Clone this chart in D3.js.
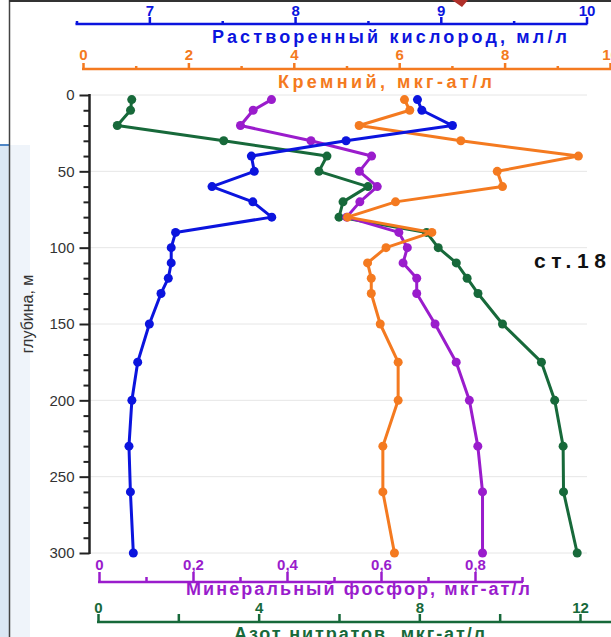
<!DOCTYPE html>
<html>
<head>
<meta charset="utf-8">
<script src="https://cdn.jsdelivr.net/npm/d3@7"></script>
<style>
  body { margin: 0; background: #fff; }
  svg { display: block; font-family: "Liberation Sans", Arial, sans-serif; }
</style>
</head>
<body>
<div id="container"></div>
<script>
/* DATA */
const depths = [3, 10, 20, 30, 40, 50, 60, 70, 80, 90, 100, 110, 120, 130, 150, 175, 200, 230, 260, 300];
const oxygen = [8.84, 8.87, 9.08, 8.35, 7.70, 7.72, 7.43, 7.71, 7.84, 7.18, 7.15, 7.15, 7.13, 7.08, 7.00, 6.92, 6.88, 6.86, 6.87, 6.89];
const silicon = [6.10, 6.20, 5.24, 7.17, 9.40, 7.86, 7.96, 5.93, 5.02, 6.62, 5.75, 5.40, 5.47, 5.47, 5.64, 5.98, 5.98, 5.69, 5.69, 5.91];
const phosphate = [0.367, 0.328, 0.301, 0.451, 0.580, 0.554, 0.592, 0.555, 0.527, 0.638, 0.656, 0.647, 0.676, 0.676, 0.715, 0.760, 0.788, 0.806, 0.816, 0.816];
const nitrate = [0.84, 0.81, 0.48, 3.13, 5.70, 5.50, 6.72, 6.10, 6.00, 8.18, 8.47, 8.92, 9.19, 9.46, 10.07, 11.04, 11.37, 11.58, 11.59, 11.93];

const depthTicks = [0, 50, 100, 150, 200, 250, 300];
const oxygenTicks = [7, 8, 9, 10];
const siliconTicks = [0, 2, 4, 6, 8, 10];
const phosphateTicks = [0, 0.2, 0.4, 0.6, 0.8];
const nitrateTicks = [0, 4, 8, 12];

const width = 611, height = 637;
const colors = { oxygen: "#0b14de", silicon: "#f47a20", phosphate: "#9a1ccc", nitrate: "#17693a" };

/* SCALES */
const yScale = d3.scaleLinear().domain([0, 300]).range([95, 553]);
const xOxygen = d3.scaleLinear().domain([6.5, 10]).range([76.5, 586.5]);
const xSilicon = d3.scaleLinear().domain([0, 10]).range([83, 610]);
const xPhosphate = d3.scaleLinear().domain([0, 0.9]).range([99, 522]);
const xNitrate = d3.scaleLinear().domain([0, 12]).range([98, 580]);

const svg = d3.select("#container").append("svg")
  .attr("width", width)
  .attr("height", height);

// screenshot background pieces
svg.append("rect").attr("x", 0).attr("y", 145).attr("width", 30).attr("height", height - 145)
  .attr("fill", "#dbe7f4");
svg.append("rect").attr("x", 10).attr("y", 145).attr("width", 20).attr("height", height - 145)
  .attr("fill", "#fff").attr("opacity", 0.55);
svg.append("line").attr("x1", 0).attr("x2", 10).attr("y1", 145).attr("y2", 145)
  .attr("stroke", "#4f86c6").attr("stroke-width", 2);
svg.append("line").attr("x1", 9.5).attr("x2", 9.5).attr("y1", 0).attr("y2", height)
  .attr("stroke", "#444").attr("stroke-width", 1.5);
svg.append("line").attr("x1", 9).attr("x2", width).attr("y1", 1).attr("y2", 1)
  .attr("stroke", "#333").attr("stroke-width", 2);
svg.append("path").attr("d", "M452,0 L468,0 L462,7 Z").attr("fill", "#b0302a");

// gridlines
svg.append("g").selectAll("line").data(depthTicks).join("line")
  .attr("x1", 90).attr("x2", 587)
  .attr("y1", d => yScale(d)).attr("y2", d => yScale(d))
  .attr("stroke", "#e6e6e6").attr("stroke-width", 1);

// + Y AXIS
const yMinor = d3.range(0, 301, 10).filter(d => d % 50 !== 0);
const yAxisG = svg.append("g").attr("transform", "translate(89.5,0)");
yAxisG.call(d3.axisLeft(yScale).tickValues(yMinor).tickSize(6).tickFormat(""))
  .call(g => g.select(".domain").remove());
yAxisG.append("g").call(d3.axisLeft(yScale).tickValues(depthTicks).tickSize(10).tickSizeOuter(0).tickPadding(5))
  .call(g => g.select(".domain").remove())
  .call(g => g.selectAll("text").attr("font-size", 15).attr("fill", "#333").attr("font-family", "Liberation Sans, Arial, sans-serif"));
yAxisG.selectAll(".tick line").attr("stroke", "#222").attr("stroke-width", 2);
yAxisG.append("line").attr("x1", 0).attr("x2", 0).attr("y1", yScale(0) - 1).attr("y2", yScale(300) + 1)
  .attr("stroke", "#222").attr("stroke-width", 2.5);

svg.append("text")
  .attr("transform", `translate(33, 314) rotate(-90)`)
  .attr("text-anchor", "middle")
  .attr("font-size", 16)
  .attr("fill", "#333")
  .text("глубина, м");

// + TOP / BOTTOM AXES (all with ticks pointing up and labels above)
function drawAxis(scale, y, ticks, minor, majorSize, minorSize, pad, color, fmt, lineEnd) {
  const g = svg.append("g").attr("transform", `translate(0,${y})`);
  g.append("g").call(d3.axisTop(scale).tickValues(minor).tickSize(minorSize).tickFormat(""))
    .call(a => a.select(".domain").remove());
  g.append("g").call(d3.axisTop(scale).tickValues(ticks).tickSize(majorSize).tickPadding(pad).tickFormat(fmt))
    .call(a => a.select(".domain").remove())
    .call(a => a.selectAll("text")
      .attr("font-size", 15).attr("font-weight", "bold").attr("fill", color)
      .attr("font-family", "Liberation Sans, Arial, sans-serif"));
  g.selectAll(".tick line").attr("stroke", color).attr("stroke-width", 2.5);
  g.append("line").attr("x1", scale.range()[0] - 1).attr("x2", lineEnd)
    .attr("stroke", color).attr("stroke-width", 2.5);
  return g;
}

drawAxis(xOxygen, 24, oxygenTicks, [6.5, 7.5, 8.5, 9.5], 7, 3, 1, colors.oxygen, d3.format("d"), xOxygen(10) + 1);
drawAxis(xSilicon, 69, siliconTicks, [1, 3, 5, 7, 9], 6, 3, 3, colors.silicon, d3.format("d"), width);
drawAxis(xPhosphate, 582, phosphateTicks, [0.1, 0.3, 0.5, 0.7, 0.9], 10, 5, 2, colors.phosphate,
  d => d3.format(".1f")(d).replace(".", ",").replace(/^0,0$/, "0"), xPhosphate(0.9) + 1);
drawAxis(xNitrate, 622, nitrateTicks, [2, 6, 10], 8, 8, 1, colors.nitrate, d3.format("d"), width);

// axis titles
const titles = [
  { text: "Растворенный кислород, мл/л", x: 212, y: 43, len: 355, color: colors.oxygen },
  { text: "Кремний, мкг-ат/л", x: 278, y: 88, len: 214, color: colors.silicon },
  { text: "Минеральный фосфор, мкг-ат/л", x: 186, y: 595, len: 344, color: colors.phosphate },
  { text: "Азот нитратов, мкг-ат/л", x: 234, y: 640, len: 251, color: colors.nitrate }
];
svg.append("g").selectAll("text").data(titles).join("text")
  .attr("x", d => d.x).attr("y", d => d.y)
  .attr("textLength", d => d.len).attr("lengthAdjust", "spacing")
  .attr("font-size", 18).attr("font-weight", "bold")
  .attr("fill", d => d.color)
  .text(d => d.text);

// + SERIES
const series = [
  { key: "nitrate", values: nitrate, x: xNitrate },
  { key: "phosphate", values: phosphate, x: xPhosphate },
  { key: "silicon", values: silicon, x: xSilicon },
  { key: "oxygen", values: oxygen, x: xOxygen }
];

series.forEach(s => {
  const pts = depths.map((d, i) => ({ depth: d, value: s.values[i] }));
  const lineGen = d3.line().x(d => s.x(d.value)).y(d => yScale(d.depth));
  const g = svg.append("g").attr("class", "series-" + s.key);
  g.append("path").datum(pts)
    .attr("d", lineGen)
    .attr("fill", "none")
    .attr("stroke", colors[s.key])
    .attr("stroke-width", 3)
    .attr("stroke-linejoin", "round");
  g.selectAll("circle").data(pts).join("circle")
    .attr("cx", d => s.x(d.value))
    .attr("cy", d => yScale(d.depth))
    .attr("r", 4.5)
    .attr("fill", colors[s.key]);
});

// station label
svg.append("text")
  .attr("x", 534).attr("y", 268)
  .attr("textLength", 72).attr("lengthAdjust", "spacing")
  .attr("font-size", 21).attr("font-weight", "bold")
  .attr("fill", "#111")
  .text("ст.18");
</script>
</body>
</html>
